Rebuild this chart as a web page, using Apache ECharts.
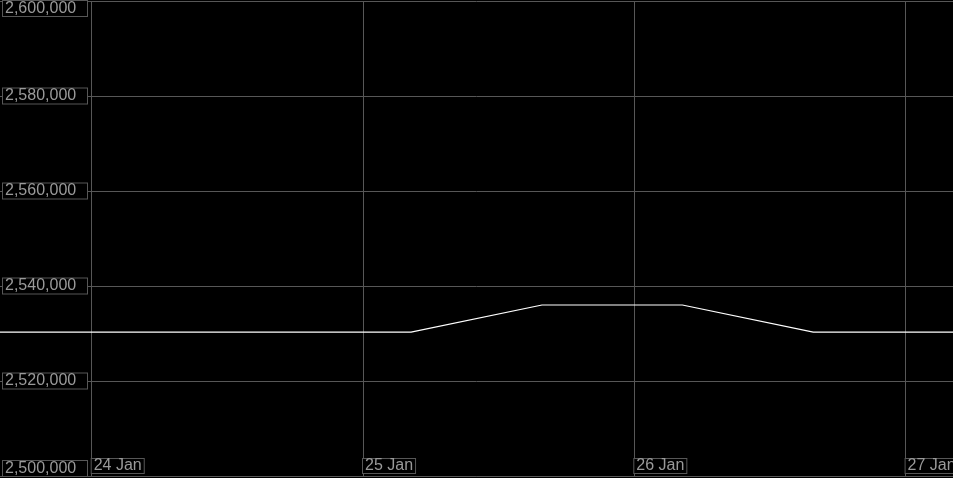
<!DOCTYPE html>
<html>
<head>
<meta charset="utf-8">
<script src="https://cdn.jsdelivr.net/npm/echarts@6/dist/echarts.min.js"></script>
<style>
html,body{margin:0;padding:0;background:#000;}
#chart{width:953px;height:478px;}
</style>
</head>
<body>
<div id="chart"></div>
<script>
// Data (UTC times)
const times = [
  Date.UTC(2025, 0, 23, 15, 50),
  Date.UTC(2025, 0, 24, 4, 15),
  Date.UTC(2025, 0, 24, 15, 50),
  Date.UTC(2025, 0, 25, 4, 15),
  Date.UTC(2025, 0, 25, 15, 50),
  Date.UTC(2025, 0, 26, 4, 15),
  Date.UTC(2025, 0, 26, 15, 50),
  Date.UTC(2025, 0, 27, 4, 15)
];
const values = [2530300, 2530300, 2530300, 2530300, 2536000, 2536000, 2530300, 2530300];
const monthNames = ['Jan','Feb','Mar','Apr','May','Jun','Jul','Aug','Sep','Oct','Nov','Dec'];
const yMin = 2500000, yMax = 2600000, yStep = 20000;
const DAY = 86400000;
// whole-day x range so day ticks start at midnight
const xMin = Date.UTC(2025, 0, 23);
const xMax = Date.UTC(2025, 0, 28);

const W = 953;
const dayPx = 271.3;
const firstDayX = 91.7; // pixel of 24 Jan
const gridLeft = firstDayX - dayPx;
const gridRight = W - (firstDayX + 4 * dayPx);

const chart = echarts.init(document.getElementById('chart'), null, {renderer: 'canvas'});
const gridColor = '#575757';
const labelFont = {fontFamily: 'Liberation Sans, Arial, sans-serif', fontSize: 16, color: '#9a9a9a'};
chart.setOption({
  backgroundColor: '#000',
  animation: false,
  grid: [
    {left: 0, right: 0, top: 1, bottom: 2, outerBoundsMode: 'none', containLabel: false},
    {left: gridLeft, right: gridRight, top: 1, bottom: 2, outerBoundsMode: 'none', containLabel: false}
  ],
  xAxis: [
    {gridIndex: 0, type: 'value', min: 0, max: 1, show: false},
    {
      gridIndex: 1,
      type: 'value',
      min: xMin,
      max: xMax,
      interval: DAY,
      axisLine: {show: true, onZero: false, lineStyle: {color: gridColor, width: 1}},
      axisTick: {show: false},
      splitLine: {show: true, lineStyle: {color: gridColor, width: 1}},
      axisLabel: Object.assign({
        inside: true,
        margin: 3,
        align: 'left',
        verticalAlign: 'bottom',
        hideOverlap: false,
        padding: [0, 2, 0, 2],
        lineHeight: 14,
        borderColor: gridColor,
        borderWidth: 1,
        backgroundColor: '#000',
        formatter: function (v) {
          const d = new Date(v);
          return d.getUTCDate() + ' ' + monthNames[d.getUTCMonth()];
        }
      }, labelFont)
    }
  ],
  yAxis: [
    {
      gridIndex: 0,
      type: 'value',
      min: yMin,
      max: yMax,
      interval: yStep,
      axisLine: {show: false},
      axisTick: {show: false},
      splitLine: {show: true, lineStyle: {color: gridColor, width: 1}},
      axisLabel: Object.assign({
        inside: true,
        margin: 3,
        align: 'left',
        verticalAlignMinLabel: 'bottom',
        verticalAlignMaxLabel: 'top',
        width: 80,
        padding: [0, 2, 0, 2],
        lineHeight: 15,
        borderColor: gridColor,
        borderWidth: 1,
        backgroundColor: '#000',
        formatter: function (v) {
          return v.toLocaleString('en-US');
        }
      }, labelFont),
      z: 5
    },
    {gridIndex: 1, type: 'value', min: yMin, max: yMax, interval: yStep, show: false, splitLine: {show: false}}
  ],
  series: [{
    type: 'line',
    xAxisIndex: 1,
    yAxisIndex: 1,
    data: times.map((t, i) => [t, values[i]]),
    symbol: 'none',
    clip: false,
    lineStyle: {color: '#ffffff', width: 1.2},
    z: 3
  }]
});
</script>
</body>
</html>
